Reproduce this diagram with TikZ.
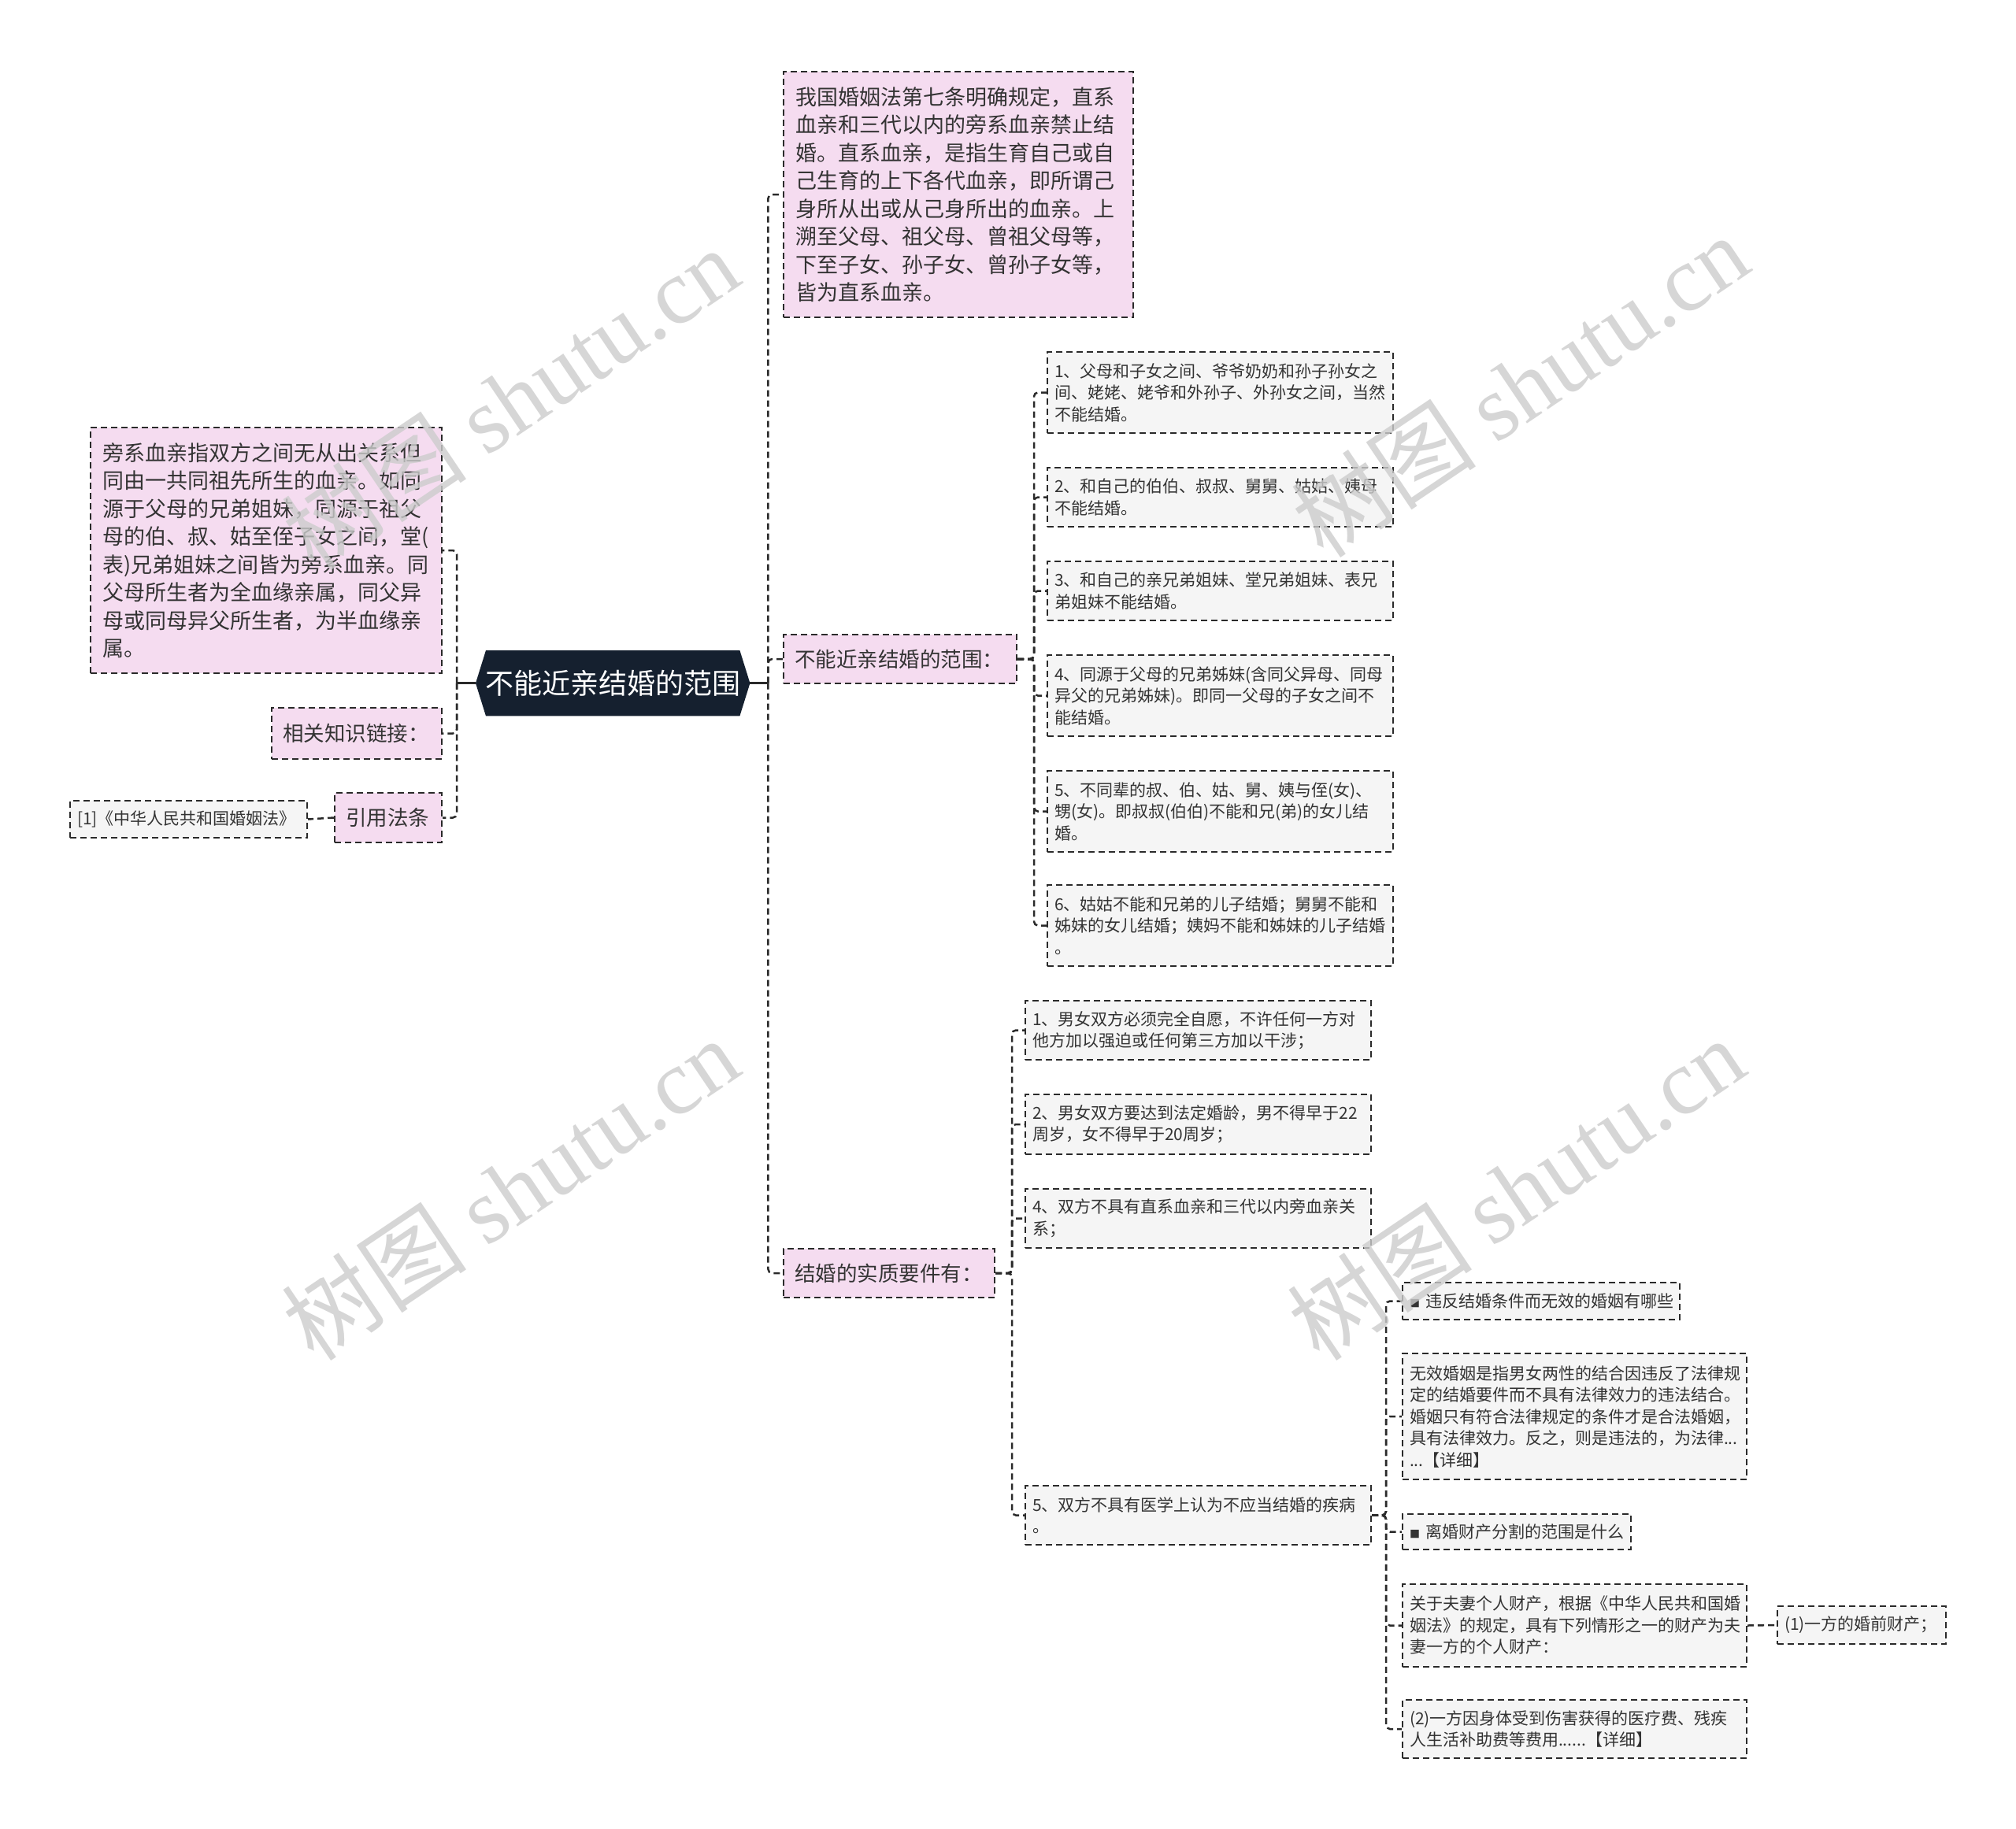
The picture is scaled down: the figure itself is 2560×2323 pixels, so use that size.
\documentclass[tikz,border=0pt]{standalone}
\usepackage{fontspec}
\setmainfont{Noto Sans CJK SC}
\newfontfamily\cjk{Noto Sans CJK SC}
\newfontfamily\wmfont{Liberation Serif}
\usetikzlibrary{backgrounds,calc}

\definecolor{pinkfill}{HTML}{F5DCF0}
\definecolor{grayfill}{HTML}{F5F5F5}
\definecolor{rootfill}{HTML}{15202F}
\definecolor{txt}{HTML}{333333}
\definecolor{edgecol}{HTML}{2A2A2A}

\tikzset{
  box/.style={draw=edgecol, line width=2pt, dash pattern=on 8pt off 5pt, anchor=north west, align=left, text=txt, inner ysep=0pt},
  pinkbig/.style={box, fill=pinkfill, inner xsep=15pt, font=\fontsize{27}{35.5}\selectfont},
  pinkmid/.style={box, fill=pinkfill, inner xsep=14pt, font=\fontsize{26.5}{32}\selectfont},
  graybox/.style={box, fill=grayfill, inner xsep=9pt, font=\fontsize{21}{27.5}\selectfont},
  conn/.style={draw=edgecol, line width=2.5pt, dash pattern=on 8pt off 5pt, rounded corners=5pt},
  solidconn/.style={draw=edgecol, line width=2.5pt},
  wm/.style={text=black!20, opacity=0.8, rotate=34, font=\fontsize{118}{118}\selectfont}
}
\newcommand{\sq}{{\fontsize{13}{13}\selectfont ■}}

\begin{document}
\begin{tikzpicture}[x=1pt,y=-1pt]
\useasboundingbox (0,0) rectangle (2560,2323);

% root
\node[font=\fontsize{36}{42}\selectfont, text=white, minimum width=348pt, minimum height=83pt, inner sep=0pt, anchor=north west] (root) at (604,826) {不能近亲结婚的范围};
\begin{scope}[on background layer]
\fill[white] (0,0) rectangle (2560,2323);
\fill[rootfill] (root.west) -- ($(root.north west)+(13,0)$) -- ($(root.north east)+(-13,0)$) -- (root.east) -- ($(root.south east)+(-13,0)$) -- ($(root.south west)+(13,0)$) -- cycle;
\end{scope}

% right main branches
\node[pinkbig, minimum width=444pt, minimum height=312pt, text width=414pt] (top) at (994,90) {我国婚姻法第七条明确规定，直系\\血亲和三代以内的旁系血亲禁止结\\婚。直系血亲，是指生育自己或自\\己生育的上下各代血亲，即所谓己\\身所从出或从己身所出的血亲。上\\溯至父母、祖父母、曾祖父母等，\\下至子女、孙子女、曾孙子女等，\\皆为直系血亲。};
\node[pinkmid, minimum width=296pt, minimum height=62pt, text width=268pt] (fw) at (994,805) {不能近亲结婚的范围：};
\node[pinkmid, minimum width=268pt, minimum height=62pt, text width=240pt] (sz) at (994,1585) {结婚的实质要件有：};

% left branches
\node[pinkbig, minimum width=446pt, minimum height=312pt, text width=416pt] (pb) at (114,542) {旁系血亲指双方之间无从出关系但\\同由一共同祖先所生的血亲。如同\\源于父母的兄弟姐妹，同源于祖父\\母的伯、叔、姑至侄子女之间，堂(\\表)兄弟姐妹之间皆为旁系血亲。同\\父母所生者为全血缘亲属，同父异\\母或同母异父所生者，为半血缘亲\\属。};
\node[pinkmid, minimum width=216pt, minimum height=65pt, text width=188pt] (xg) at (344,898) {相关知识链接：};
\node[pinkmid, minimum width=136pt, minimum height=63pt, text width=108pt] (yy) at (424,1006) {引用法条};
\node[graybox, minimum width=301pt, minimum height=47pt, text width=283pt] (ref) at (88,1016) {[1]《中华人民共和国婚姻法》};

% range items
\node[graybox, minimum width=439pt, minimum height=103pt, text width=421pt] (f1) at (1329,446) {1、父母和子女之间、爷爷奶奶和孙子孙女之\\间、姥姥、姥爷和外孙子、外孙女之间，当然\\不能结婚。};
\node[graybox, minimum width=439pt, minimum height=75pt, text width=421pt] (f2) at (1329,593) {2、和自己的伯伯、叔叔、舅舅、姑姑、姨母\\不能结婚。};
\node[graybox, minimum width=439pt, minimum height=75pt, text width=421pt] (f3) at (1329,712) {3、和自己的亲兄弟姐妹、堂兄弟姐妹、表兄\\弟姐妹不能结婚。};
\node[graybox, minimum width=439pt, minimum height=103pt, text width=421pt] (f4) at (1329,831) {4、同源于父母的兄弟姊妹(含同父异母、同母\\异父的兄弟姊妹)。即同一父母的子女之间不\\能结婚。};
\node[graybox, minimum width=439pt, minimum height=103pt, text width=421pt] (f5) at (1329,978) {5、不同辈的叔、伯、姑、舅、姨与侄(女)、\\甥(女)。即叔叔(伯伯)不能和兄(弟)的女儿结\\婚。};
\node[graybox, minimum width=439pt, minimum height=103pt, text width=421pt] (f6) at (1329,1123) {6、姑姑不能和兄弟的儿子结婚；舅舅不能和\\姊妹的女儿结婚；姨妈不能和姊妹的儿子结婚\\。};

% substantive requirement items
\node[graybox, minimum width=439pt, minimum height=75pt, text width=421pt] (s1) at (1301,1270) {1、男女双方必须完全自愿，不许任何一方对\\他方加以强迫或任何第三方加以干涉；};
\node[graybox, minimum width=439pt, minimum height=76pt, text width=421pt] (s2) at (1301,1389) {2、男女双方要达到法定婚龄，男不得早于22\\周岁，女不得早于20周岁；};
\node[graybox, minimum width=439pt, minimum height=75pt, text width=421pt] (s4) at (1301,1509) {4、双方不具有直系血亲和三代以内旁血亲关\\系；};
\node[graybox, minimum width=439pt, minimum height=75pt, text width=421pt] (s5) at (1301,1886) {5、双方不具有医学上认为不应当结婚的疾病\\。};

% children of item 5
\node[graybox, minimum width=352pt, minimum height=47pt, text width=334pt] (wf) at (1780,1628) {\sq\ 违反结婚条件而无效的婚姻有哪些};
\node[graybox, minimum width=437pt, minimum height=160pt, text width=419pt] (wx) at (1780,1718) {无效婚姻是指男女两性的结合因违反了法律规\\定的结婚要件而不具有法律效力的违法结合。\\婚姻只有符合法律规定的条件才是合法婚姻，\\具有法律效力。反之，则是违法的，为法律...\\...【详细】};
\node[graybox, minimum width=290pt, minimum height=45pt, text width=272pt] (lh) at (1780,1922) {\sq\ 离婚财产分割的范围是什么};
\node[graybox, minimum width=437pt, minimum height=105pt, text width=419pt] (gy) at (1780,2011) {关于夫妻个人财产，根据《中华人民共和国婚\\姻法》的规定，具有下列情形之一的财产为夫\\妻一方的个人财产：};
\node[graybox, minimum width=437pt, minimum height=74pt, text width=419pt] (p2) at (1780,2158) {(2)一方因身体受到伤害获得的医疗费、残疾\\人生活补助费等费用......【详细】};
\node[graybox, minimum width=214pt, minimum height=48pt, text width=196pt] (p1) at (2256,2039) {(1)一方的婚前财产；};

% connectors from root
\coordinate (rR) at ($(root.east)+(23,0)$);
\coordinate (rL) at ($(root.west)+(-24,0)$);
\draw[solidconn] (root.east) -- (rR);
\draw[solidconn] (root.west) -- (rL);
\draw[conn] (rR) |- (top.west);
\draw[conn] (rR) |- (fw.west);
\draw[conn] (rR) |- (sz.west);
\draw[conn] (rL) |- (pb.east);
\draw[conn] (rL) |- (xg.east);
\draw[conn] (rL) |- (yy.east);
\draw[conn] (yy.west) -- (ref.east);

% range subtree
\foreach \c in {f1,f2,f3,f4,f5,f6}{
  \draw[conn] (fw.east) -- ++(21,0) |- (\c.west);
}
% requirements subtree
\foreach \c in {s1,s2,s4,s5}{
  \draw[conn] (sz.east) -- ++(21,0) |- (\c.west);
}
% item 5 subtree
\foreach \c in {wf,wx,lh,gy,p2}{
  \draw[conn] (s5.east) -- ++(18,0) |- (\c.west);
}
\draw[conn] (gy.east) -- (p1.west);

% watermarks
\node[wm] (wm1) at (648,506) {\cjk 树图 \wmfont shutu.cn};
\node[wm] (wm2) at (1930,490) {\cjk 树图 \wmfont shutu.cn};
\node[wm] (wm3) at (648,1510) {\cjk 树图 \wmfont shutu.cn};
\node[wm] (wm4) at (1925,1510) {\cjk 树图 \wmfont shutu.cn};
\end{tikzpicture}
\end{document}
